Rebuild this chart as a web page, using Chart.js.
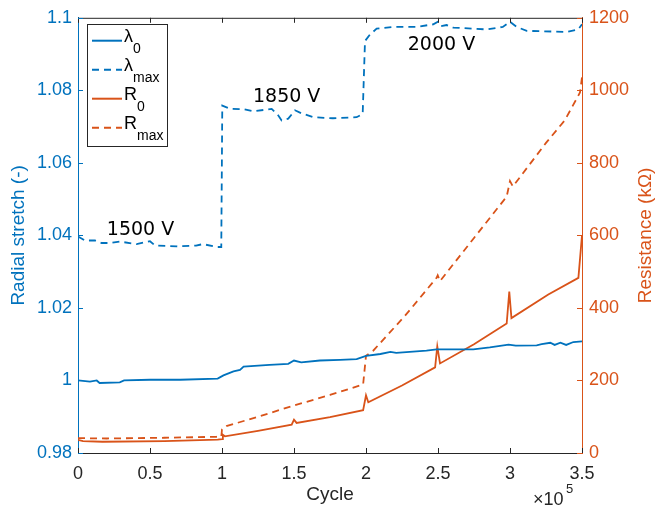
<!DOCTYPE html>
<html><head><meta charset="utf-8">
<script src="https://cdn.jsdelivr.net/npm/chart.js@4"></script>
<style>html,body{margin:0;padding:0;background:#fff;}</style>
</head><body>
<canvas id="c" width="658" height="510"></canvas>
<script>
// ---- data ----
const lambda0Cycles = [0,8300,13000,15000,29000,32000,50000,71000,97000,101000,108000,112500,115000,133000,146000,150000,155000,168000,182000,193500,200000,210000,217000,221000,228000,242000,249000,274500,286000,299000,304000,318500,322000,328000,331000,335000,339000,344000,350000];
const lambda0Values = [1.0000,0.9997,1.0000,0.9993,0.9995,1.0000,1.0002,1.0002,1.0005,1.0014,1.0025,1.0029,1.0038,1.0043,1.0046,1.0055,1.0050,1.0055,1.0057,1.0059,1.0068,1.0073,1.0079,1.0076,1.0078,1.0082,1.0086,1.0086,1.0091,1.0099,1.0096,1.0097,1.0100,1.0104,1.0098,1.0104,1.0098,1.0106,1.0108];

const lambdaMaxCycles = [0,4900,11800,16400,22000,29000,40700,50000,53500,68500,82000,86800,96300,99500,100200,105500,115000,121800,134500,139000,141400,146000,150700,155000,163400,177000,193500,197700,199300,202800,207400,219000,235000,246700,250000,252000,256000,260600,283800,295000,300000,304600,311600,339400,347400,350000];
const lambdaMaxValues = [1.0397,1.0386,1.0386,1.0379,1.0379,1.0383,1.0376,1.0384,1.0372,1.0370,1.0372,1.0376,1.0368,1.0368,1.0758,1.0749,1.0748,1.0742,1.0749,1.0731,1.0717,1.0722,1.0745,1.0737,1.0726,1.0723,1.0726,1.0735,1.0936,1.0954,1.0970,1.0975,1.0975,1.0982,1.0989,1.0977,1.0980,1.0973,1.0968,1.0975,1.0989,1.0975,1.0964,1.0961,1.0968,1.0982];

const r0Cycles = [0,3500,17000,60000,97000,100000,100600,102000,125000,148400,150000,151800,175000,198000,200000,201600,225000,248000,249500,251400,275000,297700,299500,301000,326600,347500,350000];
const r0Values = [36,33,31,33,37,38,50,46,61,78,92,83,99,118,159,140,186,236,294,247,300,357,445,372,437,483,600];

const rMaxCycles = [0,20000,60000,96000,99500,100000,103000,125000,150000,175000,198000,200000,205000,227000,249000,249800,251400,275000,297700,300000,302000,325000,338000,348600,350000];
const rMaxValues = [41,40,42,44.7,45,65,74,100,131,160,189,268,282,378,483,490,474,593,707,750,735,855,917,994,1036];

const legendMain = ['λ','λ','R','R'];
const legendSub = ['0','max','0','max'];

const voltageLabels = ['1500 V','1850 V','2000 V'];
const voltageCycles = [20000,121500,229000];
const voltageStretch = [1.0402,1.0767,1.0912];

const xTickStep = 50000;
const leftTickStep = 0.02;
const rightTickStep = 200;

// ---- styling ----
const BLUE = '#0072BD', ORANGE = '#D95319', DARK = '#262626';
const FONT = "'Liberation Sans', Arial, Helvetica, sans-serif";
Chart.defaults.font.family = FONT;

const pts = (xs, ys) => xs.map((x, i) => ({x, y: ys[i]}));

const overlay = {
  id: 'overlay',
  afterDraw(chart) {
    const {ctx, chartArea: a, scales} = chart;
    ctx.save();
    ctx.lineWidth = 1;
    // top box line
    ctx.strokeStyle = DARK;
    ctx.beginPath(); ctx.moveTo(a.left, a.top + 0.5); ctx.lineTo(a.right, a.top + 0.5); ctx.stroke();
    // x ticks inward (bottom and top)
    scales.x.ticks.forEach(t => {
      const px = Math.round(scales.x.getPixelForValue(t.value)) + 0.5;
      ctx.beginPath();
      ctx.moveTo(px, a.bottom); ctx.lineTo(px, a.bottom - 5);
      ctx.moveTo(px, a.top); ctx.lineTo(px, a.top + 5);
      ctx.stroke();
    });
    // left y ticks
    ctx.strokeStyle = BLUE;
    scales.y.ticks.forEach(t => {
      const py = Math.round(scales.y.getPixelForValue(t.value)) + 0.5;
      ctx.beginPath(); ctx.moveTo(a.left, py); ctx.lineTo(a.left + 5, py); ctx.stroke();
    });
    // right y ticks
    ctx.strokeStyle = ORANGE;
    scales.y1.ticks.forEach(t => {
      const py = Math.round(scales.y1.getPixelForValue(t.value)) + 0.5;
      ctx.beginPath(); ctx.moveTo(a.right, py); ctx.lineTo(a.right - 5, py); ctx.stroke();
    });
    // voltage annotations
    ctx.fillStyle = '#000';
    ctx.font = "19px 'DejaVu Sans', sans-serif";
    ctx.textAlign = 'left'; ctx.textBaseline = 'alphabetic';
    voltageLabels.forEach((s, i) => {
      ctx.fillText(s, scales.x.getPixelForValue(voltageCycles[i]), scales.y.getPixelForValue(voltageStretch[i]));
    });
    // x10^5 multiplier
    ctx.fillStyle = DARK;
    ctx.font = '18px ' + FONT;
    ctx.fillText('×10', 533, 505);
    ctx.font = '13px ' + FONT;
    ctx.fillText('5', 566, 493);
    // right axis title (rotated like the left one)
    ctx.save();
    ctx.translate(646, (a.top + a.bottom) / 2);
    ctx.rotate(-Math.PI / 2);
    ctx.fillStyle = ORANGE;
    ctx.font = '19px ' + FONT;
    ctx.textAlign = 'center'; ctx.textBaseline = 'middle';
    ctx.fillText('Resistance (kΩ)', 0, 0);
    ctx.restore();
    // legend box
    const bx = 87, by = 24, bw = 80, bh = 122;
    ctx.fillStyle = '#fff';
    ctx.fillRect(bx, by, bw, bh);
    ctx.strokeStyle = DARK;
    ctx.strokeRect(bx + 0.5, by + 0.5, bw, bh);
    const rows = [40.7, 69.7, 98.7, 127.7];
    chart.data.datasets.forEach((ds, i) => {
      const y = rows[i];
      ctx.strokeStyle = ds.borderColor;
      ctx.lineWidth = 2;
      ctx.setLineDash(ds.borderDash || []);
      ctx.beginPath(); ctx.moveTo(92, y); ctx.lineTo(122, y); ctx.stroke();
      ctx.setLineDash([]);
      ctx.fillStyle = '#000';
      ctx.textAlign = 'left'; ctx.textBaseline = 'alphabetic';
      ctx.font = '18px ' + FONT;
      ctx.fillText(legendMain[i], 124, y + 1.5);
      const w = ctx.measureText(legendMain[i]).width;
      ctx.font = '14px ' + FONT;
      ctx.fillText(legendSub[i], 124 + w, y + 12);
    });
    ctx.restore();
  }
};

new Chart(document.getElementById('c'), {
  type: 'line',
  data: {
    datasets: [
      {label: 'λ0', data: pts(lambda0Cycles, lambda0Values), yAxisID: 'y', borderColor: BLUE, borderWidth: 1.8},
      {label: 'λmax', data: pts(lambdaMaxCycles, lambdaMaxValues), yAxisID: 'y', borderColor: BLUE, borderWidth: 1.8, borderDash: [7, 5]},
      {label: 'R0', data: pts(r0Cycles, r0Values), yAxisID: 'y1', borderColor: ORANGE, borderWidth: 1.8},
      {label: 'Rmax', data: pts(rMaxCycles, rMaxValues), yAxisID: 'y1', borderColor: ORANGE, borderWidth: 1.8, borderDash: [7, 5]}
    ]
  },
  options: {
    responsive: false, animation: false, devicePixelRatio: 1,
    layout: {padding: {top: 15, left: 0, right: 0, bottom: 0}},
    elements: {point: {radius: 0}, line: {tension: 0, fill: false}},
    plugins: {legend: {display: false}, tooltip: {enabled: false}},
    scales: {
      x: {
        type: 'linear', min: 0, max: 350000,
        ticks: {stepSize: xTickStep, autoSkip: false, maxRotation: 0, color: DARK, font: {size: 18}, padding: 10,
          callback: v => String(Math.round(v / 1e4) / 10)},
        grid: {display: true, drawOnChartArea: false, drawTicks: false},
        border: {display: true, color: DARK, width: 1},
        title: {display: true, text: 'Cycle', color: DARK, font: {size: 19}, padding: {top: 0, bottom: 4}},
        afterFit(s) { s.height = 57; }
      },
      y: {
        type: 'linear', position: 'left', min: 0.98, max: 1.1,
        ticks: {stepSize: leftTickStep, color: BLUE, font: {size: 18}, padding: 6,
          callback: v => String(Math.round(v * 100) / 100)},
        grid: {display: true, drawOnChartArea: false, drawTicks: false},
        border: {display: true, color: BLUE, width: 1},
        title: {display: true, text: 'Radial stretch (-)', color: BLUE, font: {size: 19}, padding: {top: 7, bottom: 0}},
        afterFit(s) { s.width = 78; }
      },
      y1: {
        type: 'linear', position: 'right', min: 0, max: 1200,
        ticks: {stepSize: rightTickStep, color: ORANGE, font: {size: 18}, padding: 7,
          callback: v => String(Math.round(v))},
        grid: {display: true, drawOnChartArea: false, drawTicks: false},
        border: {display: true, color: ORANGE, width: 1},
        title: {display: false},
        afterFit(s) { s.width = 76; }
      }
    }
  },
  plugins: [overlay]
});
</script>
</body></html>
